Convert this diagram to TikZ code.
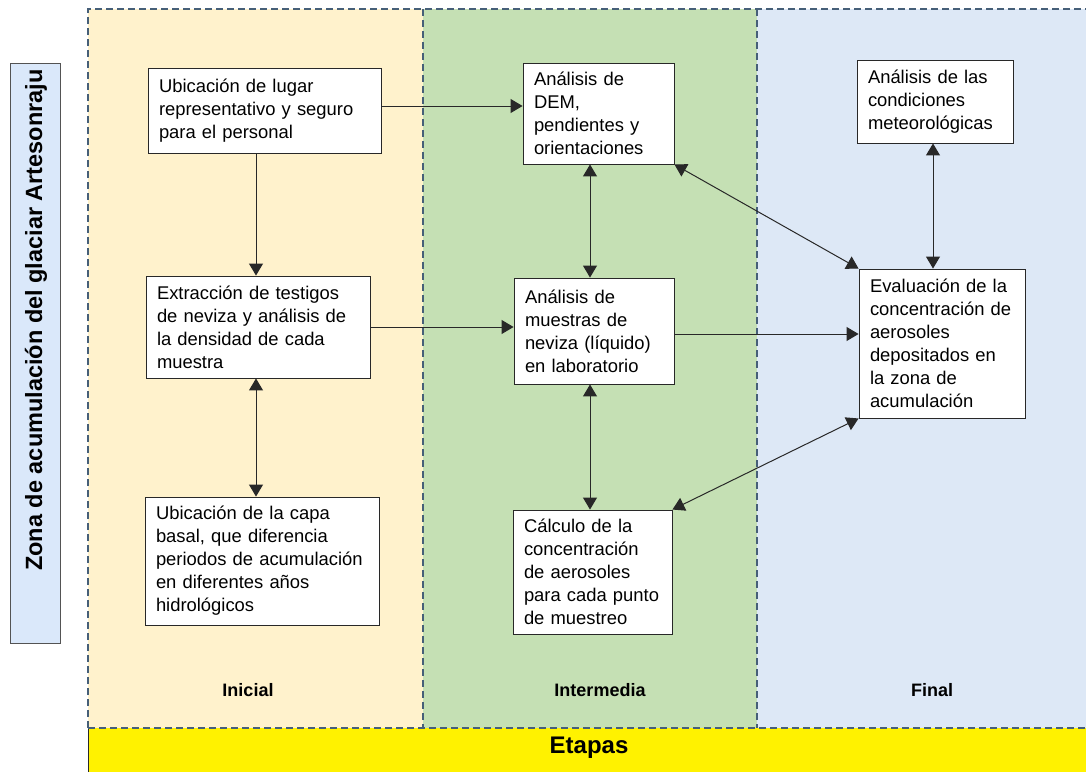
\documentclass[tikz,border=0pt]{standalone}
\usepackage{fontspec}
\setmainfont{Liberation Sans}
\usetikzlibrary{arrows.meta}
\definecolor{laneA}{RGB}{255,242,204}
\definecolor{laneB}{RGB}{197,224,180}
\definecolor{laneC}{RGB}{221,232,246}
\definecolor{sidebl}{RGB}{218,232,250}
\definecolor{dashc}{RGB}{70,95,120}
\definecolor{linec}{RGB}{40,40,40}
\begin{document}
\begin{tikzpicture}[x=1pt,y=-1pt,
 lane/.style={draw=dashc, dash pattern=on 7pt off 4pt, line width=1.2pt},
 box/.style={draw=linec, fill=white, line width=0.9pt, align=left, inner xsep=11pt, inner ysep=2pt, font=\fontsize{18.4}{23}\selectfont},
 arr/.style={draw=linec, line width=1pt, -{Triangle[width=14pt,length=12pt]}},
 darr/.style={draw=linec, line width=1pt, {Triangle[width=14pt,length=12pt]}-{Triangle[width=14pt,length=12pt]}},
 stage/.style={font=\fontsize{18}{22}\selectfont\bfseries}
]
\useasboundingbox (0,0) rectangle (1086,771);
\clip (0,0) rectangle (1086,771);
\fill[white] (0,0) rectangle (1086,771);

% lanes
\fill[laneA] (88,9) rectangle (423,728);
\fill[laneB] (423,9) rectangle (757,728);
\fill[laneC] (757,9) rectangle (1100,728);
\draw[lane] (88,728) -- (88,9) -- (1100,9);
\draw[lane] (423,9) -- (423,728);
\draw[lane] (757,9) -- (757,728);

% bottom bar
\fill[yellow] (88,728) rectangle (1100,780);
\draw[linec, line width=0.9pt] (88,780) -- (88,728);
\draw[lane] (88,728) -- (1100,728);
\node[font=\fontsize{24}{28}\selectfont\bfseries] (etapas) at (589,748) {Etapas};

\node[stage] (inicial) at (248,690) {Inicial};
\node[stage] (intermedia) at (600,690) {Intermedia};
\node[stage] (final) at (932,690) {Final};

% side label
\node[draw=linec!80, fill=sidebl, line width=0.9pt, minimum width=50pt, minimum height=580pt, inner sep=0pt] (side) at (35,353) {};
\node[rotate=90, font=\fontsize{23.5}{28}\selectfont\bfseries] (sidetxt) at (36,320) {Zona de acumulación del glaciar Artesonraju};

% boxes
\node[box, text width=211pt, minimum height=85pt] (A) at (264.5,110.5)
 {Ubicación de lugar\\representativo y seguro\\para el personal};
\node[box, text width=202pt, minimum height=102pt] (B) at (258,327)
 {Extracción de testigos\\de neviza y análisis de\\la densidad de cada\\muestra};
\node[box, text width=212pt, minimum height=128pt] (C) at (262,561)
 {Ubicación de la capa\\basal, que diferencia\\periodos de acumulación\\en diferentes años\\hidrológicos};
\node[box, text width=129pt, minimum height=101pt] (DEM) at (598.5,113.5)
 {Análisis de\\DEM,\\pendientes y\\orientaciones};
\node[box, text width=138pt, minimum height=106pt] (M) at (594,331)
 {Análisis de\\muestras de\\neviza (líquido)\\en laboratorio};
\node[box, text width=137pt, minimum height=124pt] (K) at (592.5,572)
 {Cálculo de la\\concentración\\de aerosoles\\para cada punto\\de muestreo};
\node[box, text width=134pt, minimum height=83pt] (T) at (935,101.5)
 {Análisis de las\\condiciones\\meteorológicas};
\node[box, text width=144pt, minimum height=149pt] (E) at (942,343.5)
 {Evaluación de la\\concentración de\\aerosoles\\depositados en\\la zona de\\acumulación};

% guide coordinates
\coordinate (y1) at (0,106);
\coordinate (y2) at (0,327);
\coordinate (y3) at (0,334);
\coordinate (x1) at (256,0);
\coordinate (x2) at (590,0);
\coordinate (x3) at (933,0);

% connectors
\draw[arr] (A.east |- y1) -- (DEM.west |- y1);
\draw[arr] (A.south -| x1) -- (B.north -| x1);
\draw[darr] (B.south -| x1) -- (C.north -| x1);
\draw[arr] (B.east |- y2) -- (M.west |- y2);
\draw[darr] (DEM.south -| x2) -- (M.north -| x2);
\draw[darr] (M.south -| x2) -- (K.north -| x2);
\draw[arr] (M.east |- y3) -- (E.west |- y3);
\draw[darr] (DEM.south east) -- (E.north west);
\draw[darr] (T.south -| x3) -- (E.north -| x3);
\draw[darr] (E.south west) -- (K.north east);
\end{tikzpicture}
\end{document}
